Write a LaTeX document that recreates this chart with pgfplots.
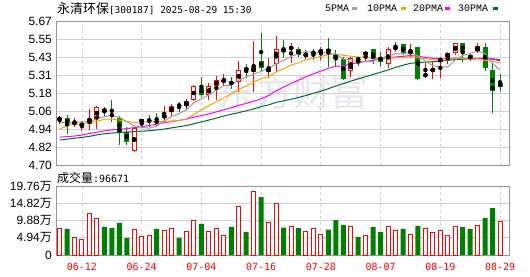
\documentclass[border=0pt]{standalone}
\usepackage{pgfplots}
\pgfplotsset{compat=1.18}
\usepackage{pgfplotstable}
\usepackage{fontspec}
\setmainfont{Liberation Sans}
\newfontfamily\cjk{Noto Sans CJK SC}
\newfontfamily\dmono{DejaVu Sans Mono}
\newfontfamily\lmono{Liberation Mono}
\definecolor{cred}{HTML}{FF0000}
\definecolor{cgreen}{HTML}{008000}
\definecolor{maA}{HTML}{9E9E9E}
\definecolor{maB}{HTML}{F2A700}
\definecolor{maC}{HTML}{FF00FF}
\definecolor{maD}{HTML}{006B33}
\definecolor{gridc}{HTML}{D2D2D2}
\definecolor{framec}{HTML}{969696}
\definecolor{wm}{HTML}{E8E8EE}

\pgfplotstableread{
i o h l c
0 5.010 5.030 4.974 5.012
2 4.978 5.017 4.958 4.987
3 4.967 4.996 4.929 4.976
4 4.978 5.075 4.936 5.008
5 5.010 5.095 4.945 5.091
10 4.797 4.958 4.785 4.947
11 4.985 5.012 4.947 5.008
14 5.019 5.097 4.992 5.037
15 5.055 5.113 5.026 5.095
17 5.100 5.145 5.070 5.131
18 5.136 5.239 5.131 5.234
20 5.172 5.255 5.138 5.232
21 5.234 5.300 5.138 5.270
22 5.266 5.311 5.234 5.270
24 5.257 5.400 5.194 5.338
26 5.324 5.538 5.194 5.360
28 5.324 5.419 5.284 5.356
29 5.383 5.571 5.329 5.481
31 5.479 5.520 5.385 5.497
33 5.439 5.475 5.412 5.443
35 5.459 5.497 5.407 5.475
39 5.335 5.425 5.295 5.419
40 5.410 5.425 5.369 5.414
41 5.441 5.463 5.396 5.459
44 5.380 5.497 5.351 5.481
45 5.479 5.531 5.463 5.497
47 5.457 5.513 5.423 5.463
49 5.297 5.385 5.295 5.313
50 5.338 5.403 5.279 5.342
51 5.392 5.425 5.284 5.419
52 5.425 5.459 5.378 5.452
53 5.457 5.524 5.441 5.520
56 5.459 5.524 5.452 5.502
}\redtab

\pgfplotstableread{
i o h l c
1 5.014 5.037 4.911 4.978
6 5.077 5.091 5.032 5.059
7 5.039 5.138 4.992 5.032
8 5.014 5.030 4.837 4.920
9 4.920 4.956 4.835 4.857
12 5.003 5.037 4.958 4.999
13 4.994 5.053 4.963 4.990
16 5.104 5.122 5.059 5.100
19 5.221 5.295 5.160 5.172
23 5.255 5.293 5.212 5.250
25 5.356 5.383 5.284 5.338
27 5.400 5.591 5.329 5.356
30 5.479 5.542 5.419 5.463
32 5.479 5.497 5.425 5.441
34 5.459 5.479 5.407 5.454
36 5.479 5.553 5.362 5.463
37 5.445 5.475 5.362 5.414
38 5.414 5.425 5.273 5.279
42 5.479 5.479 5.378 5.412
43 5.430 5.463 5.369 5.396
46 5.513 5.513 5.441 5.452
48 5.493 5.493 5.273 5.279
54 5.520 5.524 5.396 5.459
55 5.441 5.457 5.400 5.412
57 5.497 5.520 5.335 5.356
58 5.340 5.385 5.053 5.201
59 5.255 5.313 5.201 5.223
}\greentab

\pgfplotstableread{
i m5 m10 m20 m30
0 4.985 4.940 4.888 4.868
1 4.985 4.965 4.891 4.874
2 4.988 4.975 4.895 4.880
3 4.990 4.978 4.902 4.886
4 4.994 4.982 4.912 4.893
5 5.010 4.995 4.920 4.903
6 5.026 5.008 4.930 4.910
7 5.034 5.010 4.937 4.915
8 5.022 5.003 4.940 4.919
9 4.992 4.993 4.945 4.922
10 4.964 4.987 4.952 4.925
11 4.954 4.990 4.958 4.928
12 4.948 4.991 4.966 4.931
13 4.962 4.992 4.975 4.936
14 4.998 4.995 4.985 4.942
15 5.028 4.996 4.993 4.950
16 5.046 5.000 5.000 4.958
17 5.072 5.010 5.010 4.966
18 5.120 5.041 5.022 4.978
19 5.146 5.072 5.033 4.990
20 5.172 5.100 5.044 5.003
21 5.206 5.126 5.058 5.016
22 5.234 5.153 5.072 5.030
23 5.238 5.179 5.086 5.042
24 5.272 5.209 5.102 5.053
25 5.294 5.233 5.115 5.065
26 5.312 5.259 5.130 5.078
27 5.330 5.282 5.146 5.093
28 5.352 5.295 5.168 5.105
29 5.380 5.326 5.199 5.122
30 5.404 5.349 5.225 5.132
31 5.432 5.372 5.249 5.143
32 5.448 5.389 5.271 5.155
33 5.464 5.408 5.294 5.168
34 5.458 5.419 5.314 5.183
35 5.460 5.432 5.333 5.197
36 5.452 5.442 5.351 5.214
37 5.446 5.447 5.365 5.232
38 5.414 5.439 5.367 5.248
39 5.408 5.433 5.380 5.265
40 5.396 5.428 5.389 5.280
41 5.396 5.424 5.398 5.295
42 5.396 5.421 5.405 5.310
43 5.420 5.417 5.413 5.325
44 5.432 5.420 5.420 5.340
45 5.450 5.423 5.428 5.358
46 5.448 5.422 5.432 5.372
47 5.458 5.427 5.437 5.385
48 5.434 5.427 5.433 5.390
49 5.400 5.416 5.425 5.393
50 5.368 5.409 5.419 5.396
51 5.362 5.405 5.415 5.400
52 5.360 5.409 5.415 5.405
53 5.408 5.421 5.419 5.410
54 5.438 5.419 5.420 5.413
55 5.452 5.410 5.417 5.415
56 5.468 5.415 5.419 5.418
57 5.450 5.405 5.416 5.418
58 5.386 5.397 5.412 5.415
59 5.338 5.388 5.402 5.410
}\matab

\pgfplotstableread{
i v
0 7.45
2 5.06
3 4.49
4 11.93
5 10.50
10 7.35
11 5.44
12 5.63
14 7.16
15 7.45
17 6.87
18 9.74
20 6.87
21 7.45
22 5.63
24 13.94
26 18.24
28 9.36
29 14.61
31 8.21
33 6.87
34 7.45
35 6.01
39 8.21
41 5.63
44 8.21
45 7.16
47 6.01
49 7.64
50 6.49
51 7.16
52 5.63
53 8.21
56 8.50
59 9.6671
}\vred

\pgfplotstableread{
i v
1 7.45
6 8.02
7 7.73
8 9.17
9 4.87
13 7.45
16 4.87
19 8.88
23 8.02
25 6.59
27 16.61
30 7.83
32 7.73
36 7.26
37 10.02
38 8.59
40 5.16
42 8.02
43 6.59
46 7.45
48 8.31
54 8.02
55 7.45
57 10.60
58 13.46
}\vgreen

\pgfplotsset{
  panel/.style={
    scale only axis, width=453bp,
    xmin=-0.48, xmax=60.2,
    axis line style={framec, line width=0.9bp},
    major tick length=0pt,
    xmajorgrids, ymajorgrids,
    x grid style={gridc, dash pattern=on 3bp off 3bp, line width=0.8bp},
    y grid style={gridc, line width=0.8bp},
    xtick={3,11,19,27,35,43,51,59},
    yticklabel style={font=\fontsize{12}{12}\selectfont, inner sep=0pt, xshift=-4bp, anchor=east},
  },
  wick/.style={only marks, mark=none, forget plot,
    error bars/.cd, y dir=both, y explicit, error mark=none,
    error bar style={line width=1bp, color=#1}},
  body/.style={only marks, mark=none, forget plot,
    error bars/.cd, y dir=both, y explicit, error mark=none,
    error bar style={line width=5bp, color=#1}},
  inner/.style={only marks, mark=none, forget plot,
    error bars/.cd, y dir=both, y explicit, error mark=none,
    error bar style={line width=3bp, color=white}},
}

\begin{document}
\begin{tikzpicture}[x=1bp,y=1bp]
\useasboundingbox (0,0) rectangle (530,276);
\fill[white] (0,0) rectangle (530,276);
\node[text=wm, font=\cjk\fontsize{38}{38}\selectfont, inner sep=0] at (293,184) {东方财富};

\node[anchor=west, inner sep=0] at (57,267.5) {{\cjk\fontsize{13}{13}\selectfont 永清环保}{\dmono\fontsize{9.5}{9.5}\selectfont [300187] 2025-08-29 15:30}};

\node[anchor=west, inner sep=0, font=\lmono\fontsize{10}{10}\selectfont] at (325,267.5) {5PMA};
\fill[maA] (352,266) rectangle (357,269);
\node[anchor=west, inner sep=0, font=\lmono\fontsize{10}{10}\selectfont] at (367,267.5) {10PMA};
\fill[maB] (400.5,266) rectangle (405.5,269);
\node[anchor=west, inner sep=0, font=\lmono\fontsize{10}{10}\selectfont] at (413,267.5) {20PMA};
\fill[maC] (445,266) rectangle (450,269);
\node[anchor=west, inner sep=0, font=\lmono\fontsize{10}{10}\selectfont] at (458,267.5) {30PMA};
\fill[maD] (492.5,266) rectangle (497.5,269);

\node[anchor=west, inner sep=0] at (57,98) {{\cjk\fontsize{12}{12}\selectfont 成交量}{\dmono\fontsize{10}{10}\selectfont :96671}};

\begin{axis}[panel, at={(56bp,111bp)}, anchor=south west, height=144bp,
  ymin=4.70, ymax=5.67,
  ytick={4.70,4.82125,4.9425,5.06375,5.185,5.30625,5.4275,5.54875,5.67},
  yticklabels={4.70,4.82,4.94,5.06,5.18,5.31,5.43,5.55,5.67},
  xticklabels={}]
  \addplot[wick=cred] table[x=i, y expr={(\thisrow{h}+\thisrow{l})/2}, y error expr={(\thisrow{h}-\thisrow{l})/2}] {\redtab};
  \addplot[wick=cgreen] table[x=i, y expr={(\thisrow{h}+\thisrow{l})/2}, y error expr={(\thisrow{h}-\thisrow{l})/2}] {\greentab};
  \addplot[body=cred] table[x=i, y expr={(\thisrow{o}+\thisrow{c})/2}, y error expr={max(abs(\thisrow{c}-\thisrow{o})/2,0.0036)}] {\redtab};
  \addplot[inner] table[x=i, y expr={(\thisrow{o}+\thisrow{c})/2}, y error expr={max(abs(\thisrow{c}-\thisrow{o})/2-0.0067,0)}] {\redtab};
  \addplot[body=cgreen] table[x=i, y expr={(\thisrow{o}+\thisrow{c})/2}, y error expr={max(abs(\thisrow{c}-\thisrow{o})/2,0.0036)}] {\greentab};
  \addplot[maD, line width=1bp, mark=none] table[x=i, y=m30] {\matab};
  \addplot[maC, line width=1bp, mark=none] table[x=i, y=m20] {\matab};
  \addplot[maB, line width=1bp, mark=none] table[x=i, y=m10] {\matab};
  \addplot[maA, line width=1bp, mark=none] table[x=i, y=m5] {\matab};
\end{axis}

\begin{axis}[panel, at={(56bp,21bp)}, anchor=south west, height=69bp,
  ymin=0, ymax=19.76,
  ytick={0,4.94,9.88,14.82,19.76},
  yticklabels={0,{4.94{\cjk 万}},{9.88{\cjk 万}},{14.82{\cjk 万}},{19.76{\cjk 万}}},
  xticklabels={06-12,06-24,07-04,07-16,07-28,08-07,08-19,08-29},
  xticklabel style={font=\dmono\fontsize{10}{10}\selectfont, text=cred, anchor=north, inner sep=0pt, yshift=-7.7bp}]
  \addplot[ybar, bar width=4bp, bar shift=0pt, draw=cred, fill=white, line width=1bp] table[x=i, y=v] {\vred};
  \addplot[ybar, bar width=5bp, bar shift=0pt, draw=none, fill=cgreen] table[x=i, y=v] {\vgreen};
\end{axis}
\end{tikzpicture}
\end{document}
